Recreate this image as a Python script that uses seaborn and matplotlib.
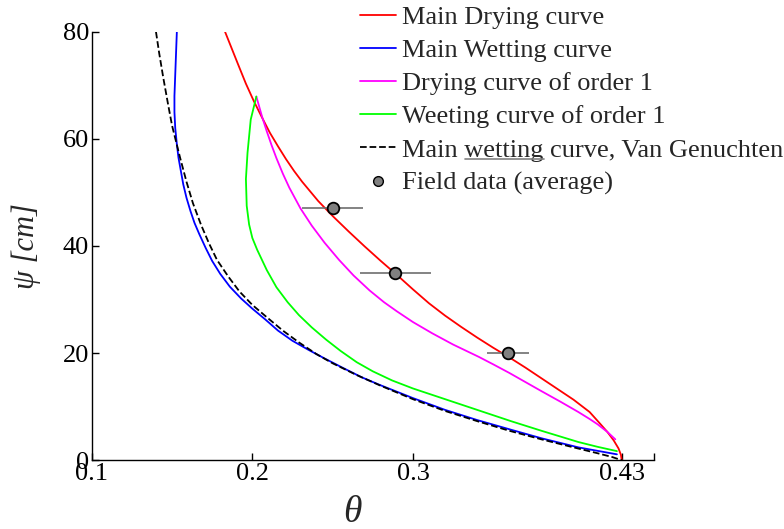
import matplotlib
matplotlib.use('Agg')

import matplotlib.pyplot as plt
import numpy             as np
import pandas            as pd
import seaborn           as sns
from matplotlib.lines import Line2D

# Curve data (theta, psi [cm])
drying_theta = [0.183, 0.187, 0.191, 0.196, 0.201, 0.206, 0.211, 0.216, 0.221,
                0.226, 0.231, 0.236, 0.241, 0.250, 0.260, 0.270, 0.280, 0.290,
                0.300, 0.310, 0.320, 0.330, 0.340, 0.350, 0.360, 0.370, 0.380,
                0.390, 0.400, 0.410, 0.416, 0.421, 0.425, 0.428, 0.4295, 0.430]
drying_psi   = [80.0, 77.0, 74.0, 70.3, 67.0, 64.0, 61.1, 58.6, 56.2,
                54.0, 52.0, 50.2, 48.4, 45.6, 42.7, 39.9, 37.2, 34.6,
                31.9, 29.3, 27.0, 24.9, 22.9, 21.0, 19.2, 17.3, 15.3,
                13.3, 11.3, 9.0, 7.0, 5.3, 3.7, 2.2, 1.0, 0.0]

wetting_theta = [0.153, 0.1525, 0.152, 0.1515, 0.1515, 0.152, 0.153, 0.154,
                 0.1555, 0.157, 0.159, 0.1615, 0.164, 0.167, 0.171, 0.175,
                 0.180, 0.186, 0.193, 0.200, 0.208, 0.216, 0.225, 0.235,
                 0.245, 0.256, 0.268, 0.279, 0.300, 0.320, 0.340, 0.361,
                 0.380, 0.403, 0.427]
wetting_psi   = [80.0, 76.0, 72.0, 68.0, 65.0, 62.0, 59.0, 56.5,
                 54.0, 51.5, 49.0, 46.5, 44.3, 42.2, 39.6, 37.2,
                 34.8, 32.4, 30.2, 28.3, 26.3, 24.2, 22.3, 20.6,
                 19.0, 17.3, 15.5, 14.1, 11.6, 9.4, 7.5, 5.7,
                 4.1, 2.4, 1.1]

dry1_theta = [0.2025, 0.206, 0.209, 0.212, 0.215, 0.219, 0.223, 0.230, 0.237,
              0.245, 0.254, 0.263, 0.273, 0.282, 0.290, 0.300, 0.312, 0.325,
              0.341, 0.350, 0.360, 0.370, 0.380, 0.392, 0.403, 0.410, 0.415,
              0.421, 0.426]
dry1_psi   = [67.9, 64.2, 61.4, 58.8, 56.4, 53.5, 50.9, 47.0, 43.8,
              40.6, 37.4, 34.5, 31.7, 29.5, 27.8, 25.8, 23.7, 21.6,
              19.3, 17.9, 16.3, 14.6, 12.9, 10.9, 9.0, 7.7, 6.7,
              5.3, 3.9]

wet1_theta = [0.2025, 0.199, 0.197, 0.196, 0.1965, 0.198, 0.200, 0.203, 0.209,
              0.215, 0.222, 0.229, 0.237, 0.246, 0.255, 0.265, 0.275, 0.287,
              0.300, 0.320, 0.340, 0.361, 0.380, 0.403, 0.415, 0.427]
wet1_psi   = [67.9, 63.6, 57.4, 52.5, 47.5, 44.0, 41.5, 39.3, 35.5,
              32.3, 29.5, 27.1, 24.8, 22.5, 20.4, 18.3, 16.6, 14.9,
              13.4, 11.4, 9.4, 7.3, 5.5, 3.4, 2.5, 1.7]

vg_theta = [0.140, 0.142, 0.1445, 0.1475, 0.150, 0.1525, 0.155, 0.159, 0.163,
            0.168, 0.173, 0.178, 0.185, 0.192, 0.200, 0.209, 0.219, 0.229,
            0.240, 0.250, 0.265, 0.280, 0.300, 0.320, 0.340, 0.360, 0.380,
            0.400, 0.415, 0.424, 0.430]
vg_psi   = [80.0, 76.0, 71.5, 66.5, 62.5, 59.5, 56.5, 52.0, 48.0,
            44.0, 40.5, 37.4, 34.3, 31.5, 29.0, 26.7, 24.2, 22.0,
            19.8, 18.1, 15.9, 13.9, 11.4, 9.2, 7.3, 5.5, 3.9,
            2.4, 1.3, 0.6, 0.0]

field_theta = [0.250, 0.289, 0.359]
field_psi   = [47.0, 35.0, 20.0]
field_err   = [0.019, 0.022, 0.013]

labels = ['Main Drying curve', 'Main Wetting curve', 'Drying curve of order 1',
          'Weeting curve of order 1', 'Main wetting curve, Van Genuchten',
          'Field data (average)']

sns.set_style('white')
plt.rcParams['font.family'] = ['Liberation Serif', 'DejaVu Serif']

fig = plt.figure(figsize=(7.84, 5.29), dpi=100)
ax = fig.add_axes([0.117, 0.130, 0.717, 0.810])

curves = [(drying_theta, drying_psi, '#ff0000', '-'),
          (wetting_theta, wetting_psi, '#0000ff', '-'),
          (dry1_theta, dry1_psi, '#ff00ff', '-'),
          (wet1_theta, wet1_psi, '#00ff00', '-'),
          (vg_theta, vg_psi, 'black', '--')]

handles = []
for (th, ps, col, ls), lab in zip(curves, labels):
    df = pd.DataFrame({'theta': th, 'psi': ps})
    sns.lineplot(data=df, x='theta', y='psi', sort=False, estimator=None,
                 color=col, linestyle=ls, linewidth=1.3, ax=ax)
    handles.append(Line2D([], [], color=col, linestyle=ls, linewidth=1.3))

ax.errorbar(field_theta, field_psi, xerr=field_err, fmt='none',
            ecolor='#6e6e6e', elinewidth=1.2, capsize=0, zorder=4)
sns.scatterplot(x=field_theta, y=field_psi, s=70, color='#808080',
                edgecolor='black', linewidth=1.3, zorder=5, ax=ax)
handles.append(Line2D([], [], linestyle='none', marker='o', markersize=7,
                      markerfacecolor='#808080', markeredgecolor='black',
                      markeredgewidth=1.0))

ax.set_xlim(0.1, 0.45)
ax.set_ylim(0, 80)
ax.set_xticks([0.1, 0.2, 0.3, 0.43, 0.45])
ax.set_xticklabels(['0.1', '0.2', '0.3', '0.43', ''])
ax.set_yticks([0, 20, 40, 60, 80])
ax.set_yticklabels(['0', '20', '40', '60', '80'])
ax.tick_params(direction='in', length=5, width=1, labelsize=19, pad=2,
               colors='black', bottom=True, left=True)

for side in ['top', 'right']:
    ax.spines[side].set_visible(False)
for side in ['left', 'bottom']:
    ax.spines[side].set_color('black')
    ax.spines[side].set_linewidth(1.0)

ax.set_xlabel('θ', fontsize=27, style='italic')
ax.set_ylabel('ψ [cm]', fontsize=22, style='italic')
ax.xaxis.set_label_coords(0.464, -0.082)
ax.yaxis.set_label_coords(-0.09, 0.5)

leg = ax.legend(handles, labels, loc='upper left', frameon=False,
                bbox_to_anchor=(355 / 784, 1.0), bbox_transform=fig.transFigure,
                borderaxespad=0, borderpad=0.2, fontsize=19,
                handlelength=1.35, handletextpad=0.25, labelspacing=0.37)

# underline the word "wetting" in the fifth legend entry
fig.canvas.draw()
renderer = fig.canvas.get_renderer()
txt = leg.get_texts()[4]
bb = txt.get_window_extent(renderer)
tmp = fig.text(0, 0, 'Main ', fontsize=19, family=txt.get_fontfamily())
w0 = tmp.get_window_extent(renderer).width
tmp.set_text('Main wetting')
w1 = tmp.get_window_extent(renderer).width
tmp.remove()
fig.add_artist(Line2D([bb.x0 + w0, bb.x0 + w1], [bb.y0 + 3, bb.y0 + 3],
                      transform=None, color='#808080', linewidth=1.2))

fig.savefig('out.png', dpi=100)
